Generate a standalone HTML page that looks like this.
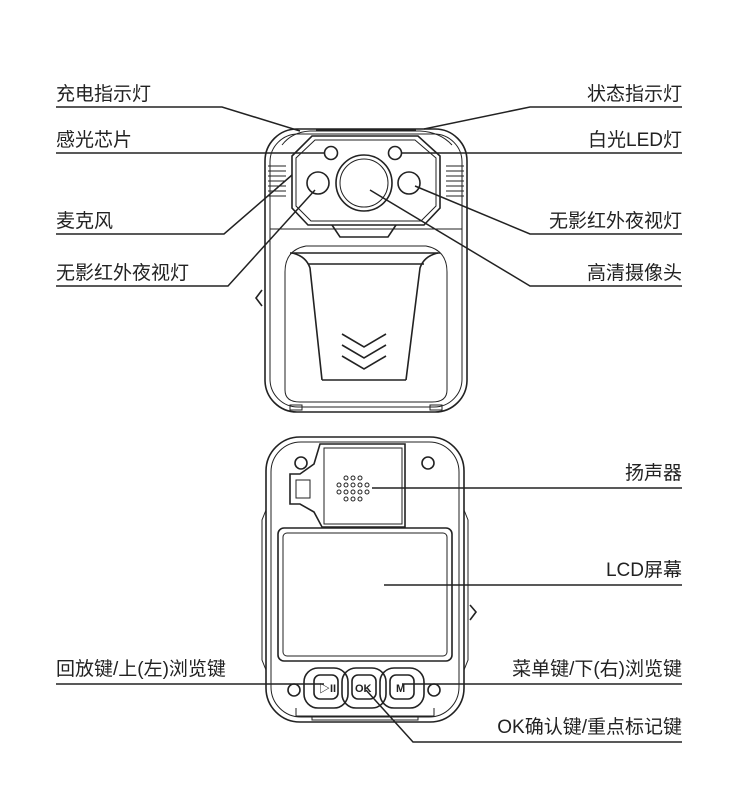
<!DOCTYPE html>
<html><head><meta charset="utf-8"><style>
html,body{margin:0;padding:0;background:#fff;}
svg{display:block}
text{font-family:"Liberation Sans","Noto Sans CJK SC",sans-serif;font-size:19px;fill:#222}
</style></head><body>
<svg width="750" height="802" viewBox="0 0 750 802" xmlns="http://www.w3.org/2000/svg">
<g fill="none" stroke="#222" stroke-width="1.6">
<!-- FRONT DEVICE -->
<rect x="265" y="129" width="202" height="283" rx="32"/>
<rect x="270" y="134" width="192" height="273" rx="28" stroke-width="1"/>
<path d="M282 145 Q292 132 310 131 L420 131 Q440 132 452 145" stroke-width="1"/>
<line x1="316" y1="130" x2="416" y2="130" stroke-width="1"/>
<!-- vents -->
<g stroke-width="1">
<path d="M268 166h18M268 171h18M268 176h18M268 181h18M268 186h18M268 191h18M268 196h18"/>
<path d="M446 166h18M446 171h18M446 176h18M446 181h18M446 186h18M446 191h18M446 196h18"/>
</g>
<!-- lens housing -->
<path d="M312 136 L418 136 L440 156 L440 208 L424 225 L308 225 L292 208 L292 156 Z"/>
<path d="M315 140 L415 140 L436 158 L436 206 L421 221 L311 221 L296 206 L296 158 Z" stroke-width="1"/>
<path d="M332 225 L340 237 L388 237 L396 225"/>
<line x1="270" y1="229" x2="462" y2="229" stroke-width="1"/>
<circle cx="364" cy="183" r="28"/><circle cx="364" cy="183" r="24" stroke-width="1"/>
<circle cx="331" cy="153" r="6.5"/><circle cx="395" cy="153" r="6.5"/>
<circle cx="318" cy="183" r="11"/><circle cx="409" cy="183" r="11"/>
<!-- clip body -->
<path d="M306 246 L426 246 Q447 250 447 272 L447 390 Q447 402 432 402 L300 402 Q285 402 285 390 L285 272 Q285 250 306 246 Z" stroke-width="1"/>
<path d="M290 253 L440 253"/>
<path d="M292 253 Q306 256 310 268 L322 380 M438 253 Q424 256 420 268 L406 380"/>
<path d="M308 264 L424 264 M322 380 L406 380"/>
<path d="M342 334 L364 347 L386 334 M342 345 L364 358 L386 345 M342 356 L364 369 L386 356"/>
<path d="M262 290 L256 298 L262 306"/>
<rect x="290" y="405" width="12" height="5" stroke-width="1"/><rect x="430" y="405" width="12" height="5" stroke-width="1"/>

<!-- BACK DEVICE -->
<rect x="266" y="437" width="198" height="285" rx="34"/>
<rect x="271" y="442" width="188" height="275" rx="30" stroke-width="1"/>
<circle cx="301" cy="463" r="6"/><circle cx="428" cy="463" r="6"/>
<circle cx="294" cy="690" r="6"/><circle cx="434" cy="690" r="6"/>
<path d="M320 444 L405 444 L405 527 L322 527 L314 512 L300 504 L290 504 L290 474 L300 474 L314 464 L320 444 Z"/>
<rect x="324" y="448" width="78" height="76" stroke-width="1"/>
<rect x="296" y="480" width="14" height="18" stroke-width="1"/>
<g stroke-width="1">
<circle cx="346" cy="478" r="2"/><circle cx="353" cy="478" r="2"/><circle cx="360" cy="478" r="2"/>
<circle cx="339" cy="485" r="2"/><circle cx="346" cy="485" r="2"/><circle cx="353" cy="485" r="2"/><circle cx="360" cy="485" r="2"/><circle cx="367" cy="485" r="2"/>
<circle cx="339" cy="492" r="2"/><circle cx="346" cy="492" r="2"/><circle cx="353" cy="492" r="2"/><circle cx="360" cy="492" r="2"/><circle cx="367" cy="492" r="2"/>
<circle cx="346" cy="499" r="2"/><circle cx="353" cy="499" r="2"/><circle cx="360" cy="499" r="2"/>
</g>
<rect x="278" y="528" width="174" height="133" rx="6"/>
<rect x="283" y="533" width="164" height="123" rx="4" stroke-width="1"/>
<path d="M266 510 L262 520 L262 660 L266 670 M464 510 L468 520 L468 660 L464 670" stroke-width="1"/>
<path d="M470 605 L476 612 L470 620"/>
<rect x="304" y="668" width="44" height="40" rx="14"/>
<rect x="342" y="668" width="44" height="40" rx="14"/>
<rect x="380" y="668" width="44" height="40" rx="14"/>
<rect x="314" y="675" width="24" height="24" rx="6"/>
<rect x="352" y="675" width="24" height="24" rx="6"/>
<rect x="390" y="675" width="24" height="24" rx="6"/>
<path d="M296 708 L296 716 L434 716 L434 708" stroke-width="1"/>
<rect x="312" y="716" width="106" height="4" stroke-width="1"/>

<!-- LEADER LINES -->
<g stroke-width="1.5">
<polyline points="56,107 222,107 300,131"/>
<polyline points="56,153 325,153"/>
<polyline points="56,234 224,234 292,175"/>
<polyline points="56,286 228,286 315,190"/>
<polyline points="682,107 530,107 424,129"/>
<polyline points="682,153 401,153"/>
<polyline points="682,234 530,234 415,186"/>
<polyline points="682,286 530,286 370,190"/>
<polyline points="682,488 372,488"/>
<polyline points="682,585 384,585"/>
<polyline points="56,684 324,684"/>
<polyline points="682,684 402,684"/>
<polyline points="682,742 413,742 366,690"/>
</g>
</g>
<text x="319" y="692" style="font-size:11px;font-weight:bold">▷II</text>
<text x="355" y="692" style="font-size:11px;font-weight:bold">OK</text>
<text x="396" y="692" style="font-size:11px;font-weight:bold">M</text>
<text x="56" y="100">充电指示灯</text>
<text x="56" y="146">感光芯片</text>
<text x="56" y="227">麦克风</text>
<text x="56" y="279">无影红外夜视灯</text>
<text x="682" y="100" text-anchor="end">状态指示灯</text>
<text x="682" y="146" text-anchor="end">白光LED灯</text>
<text x="682" y="227" text-anchor="end">无影红外夜视灯</text>
<text x="682" y="279" text-anchor="end">高清摄像头</text>
<text x="682" y="479" text-anchor="end">扬声器</text>
<text x="682" y="576" text-anchor="end">LCD屏幕</text>
<text x="56" y="675">回放键/上(左)浏览键</text>
<text x="682" y="675" text-anchor="end">菜单键/下(右)浏览键</text>
<text x="682" y="733" text-anchor="end">OK确认键/重点标记键</text>
</svg>
</body></html>
